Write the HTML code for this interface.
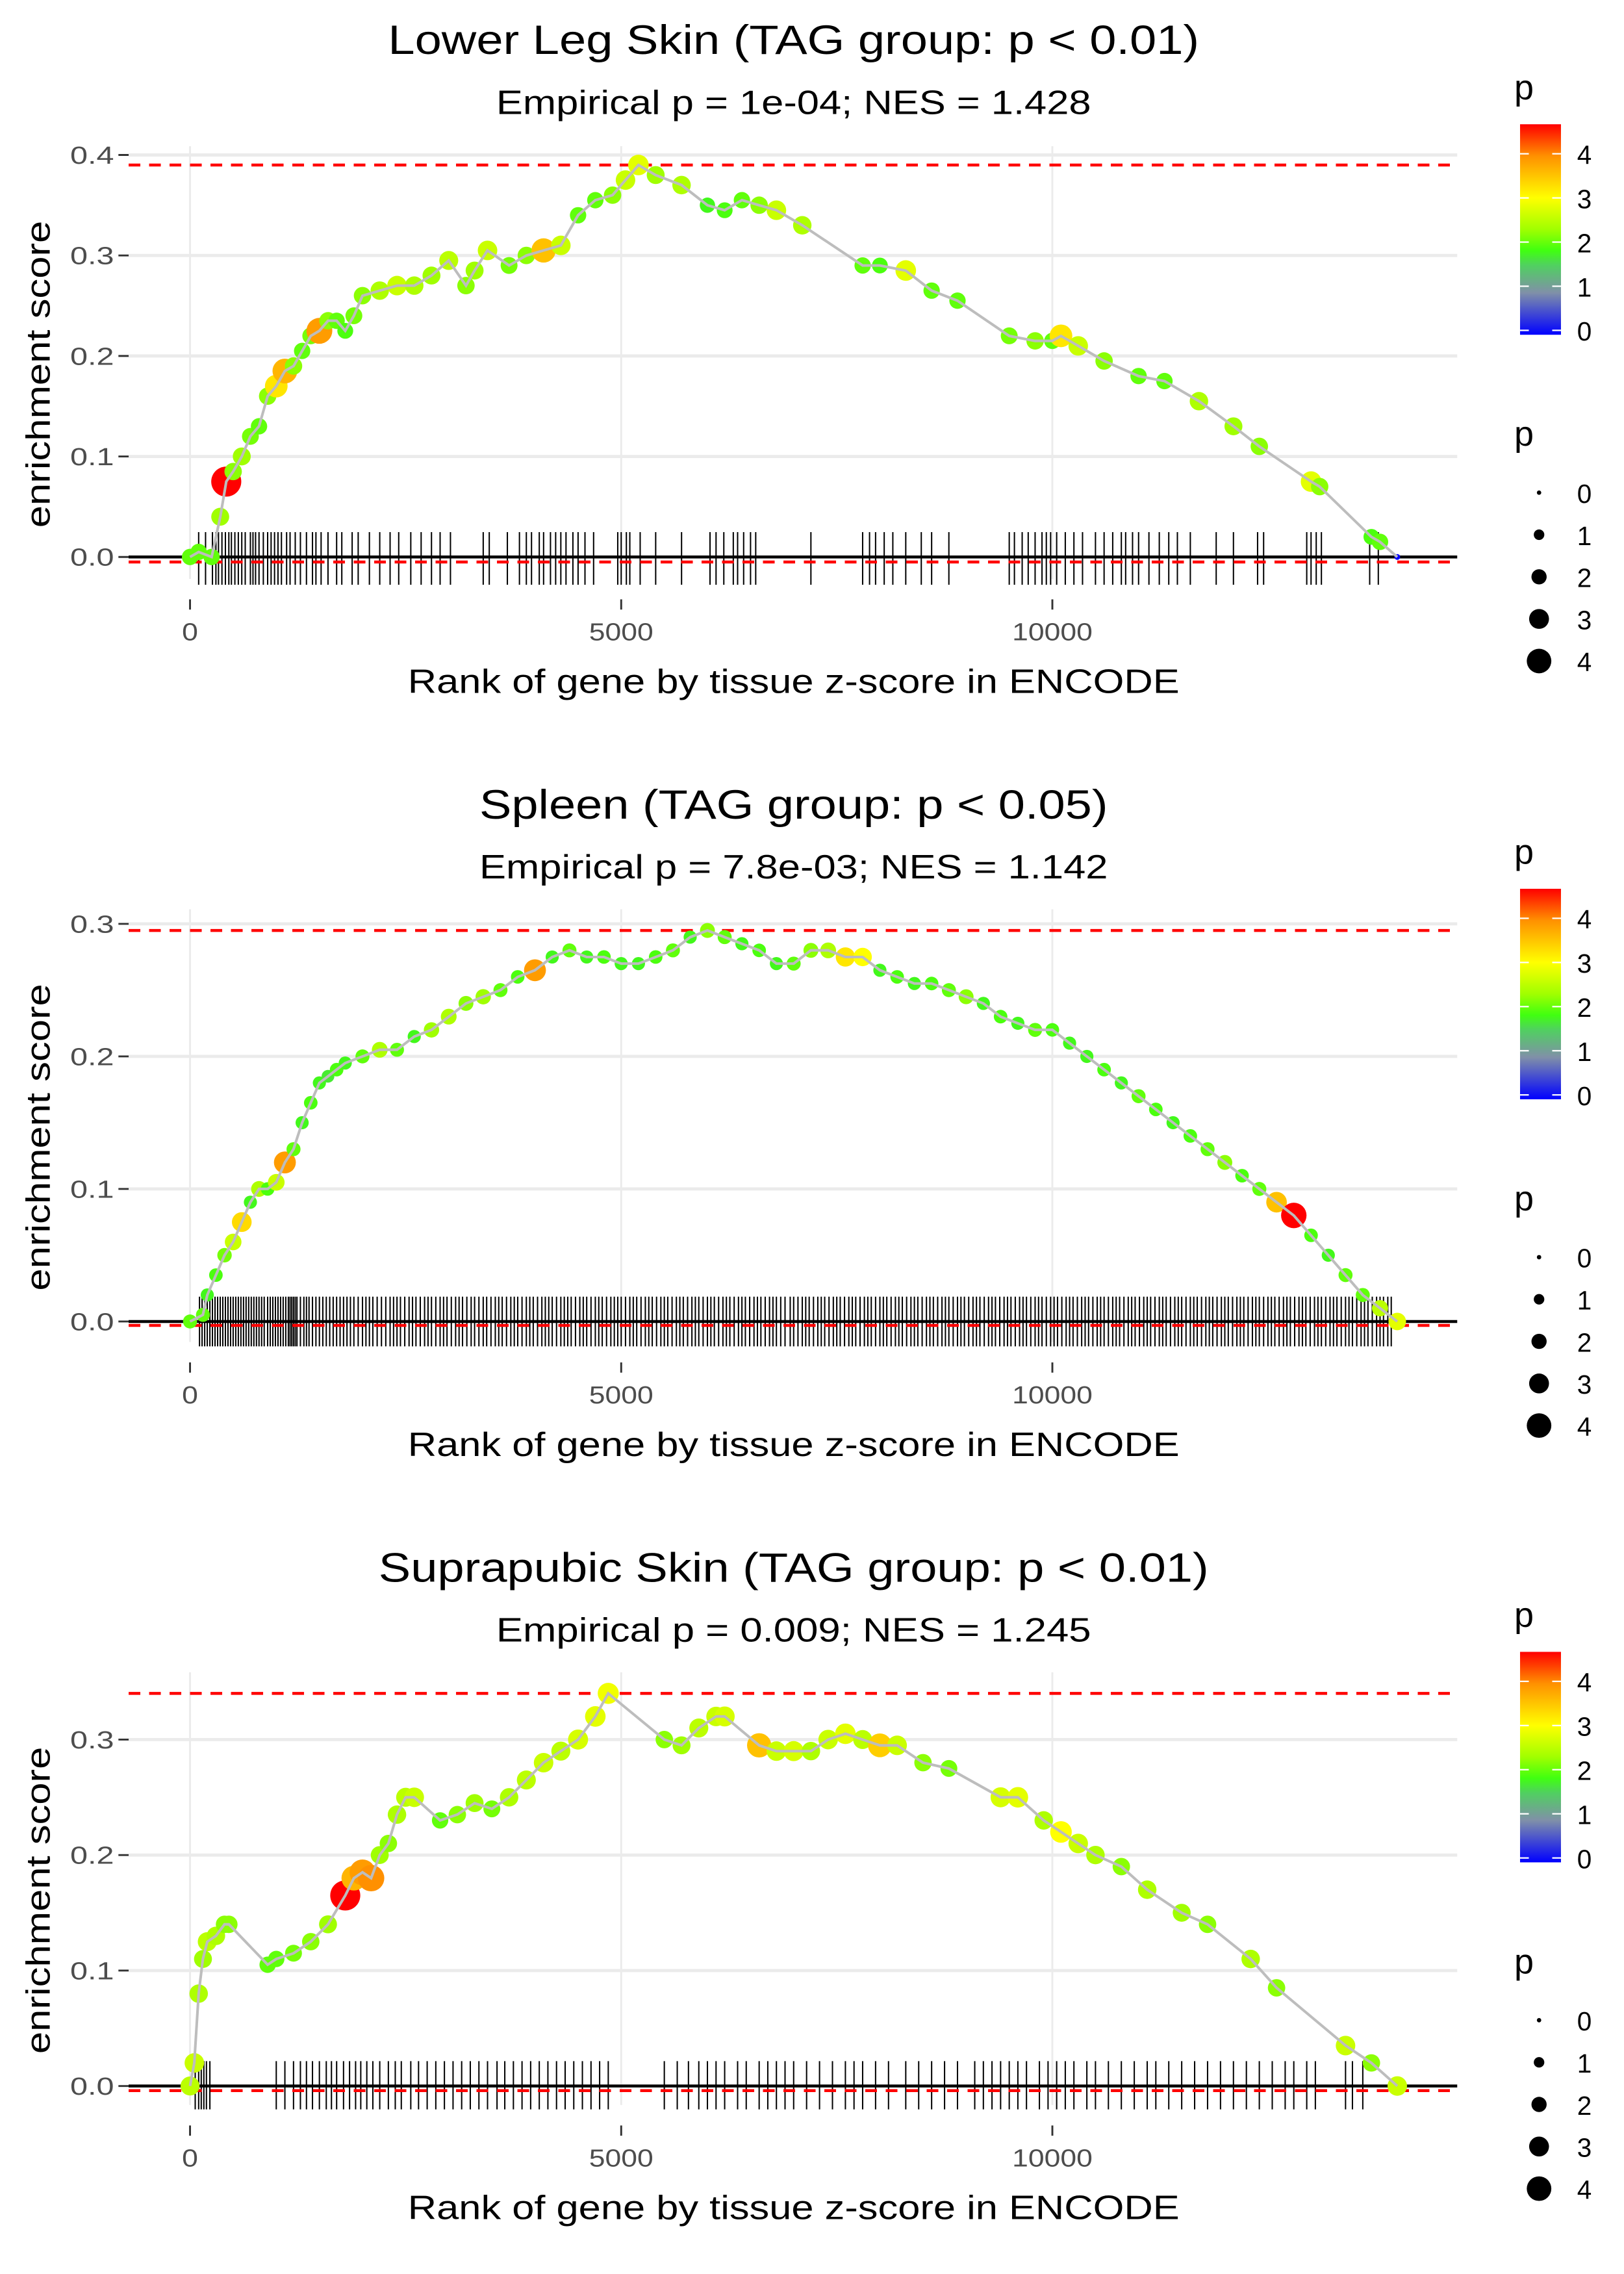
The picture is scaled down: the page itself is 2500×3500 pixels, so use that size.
<!DOCTYPE html>
<html><head><meta charset="utf-8"><style>
html,body{margin:0;padding:0;background:#fff;}
svg{display:block;font-family:"Liberation Sans",sans-serif;}
</style></head><body>
<svg id="chart" width="2500" height="3500" viewBox="0 0 1111.1 1555.6" xmlns="http://www.w3.org/2000/svg">
<defs>
<linearGradient id="cbar" x1="0" y1="1" x2="0" y2="0">
<stop offset="0" stop-color="#0000ff"/><stop offset="0.2" stop-color="#8090a8"/><stop offset="0.33" stop-color="#50d060"/><stop offset="0.4" stop-color="#40ff10"/><stop offset="0.5" stop-color="#a0ff00"/><stop offset="0.65" stop-color="#ffff00"/><stop offset="0.85" stop-color="#ff9000"/><stop offset="1" stop-color="#ff0000"/>
</linearGradient>
</defs>
</svg>
<script>
// ---------- Panel 1: Lower Leg Skin ----------
const p1Rank=[0,100,250,350,420,500,600,700,800,900,1000,1100,1200,1300,1400,1500,1600,1700,1800,1900,2000,2200,2400,2600,2800,3000,3200,3300,3450,3700,3900,4100,4300,4500,4700,4900,5050,5200,5400,5700,6000,6200,6400,6600,6800,7100,7800,8000,8300,8600,8900,9500,9800,10000,10100,10300,10600,11000,11300,11700,12100,12400,13000,13100,13700,13800,14000];
const p1ES=[0,0.005,0,0.04,0.075,0.085,0.1,0.12,0.13,0.16,0.17,0.185,0.19,0.205,0.22,0.225,0.235,0.235,0.225,0.24,0.26,0.265,0.27,0.27,0.28,0.295,0.27,0.285,0.305,0.29,0.3,0.305,0.31,0.34,0.355,0.36,0.375,0.39,0.38,0.37,0.35,0.345,0.355,0.35,0.345,0.33,0.29,0.29,0.285,0.265,0.255,0.22,0.215,0.215,0.22,0.21,0.195,0.18,0.175,0.155,0.13,0.11,0.075,0.07,0.02,0.015,0];
const p1P=[2,2,2,2.3,4.6,2.2,2.3,2.1,2,2.2,3.2,3.6,2.2,2,2.1,3.8,2.2,2,1.9,2.1,2.2,2.4,2.6,2.4,2.3,2.5,2.2,2.3,2.6,2.1,2.2,3.5,2.6,2,2,2.2,2.6,2.8,2.3,2.4,1.8,1.9,2,2.2,2.6,2.4,2,1.9,2.8,2,2,2.1,2.2,2,3.2,2.6,2.2,2,2,2.4,2.3,2.2,2.8,2.2,1.9,2,0];
const p1Hits=[100,180,260,300,330,370,410,450,480,520,560,600,640,700,730,760,800,850,900,940,980,1020,1060,1120,1160,1220,1280,1350,1420,1460,1520,1600,1700,1760,1880,1950,2080,2200,2320,2420,2560,2680,2800,2900,3020,3400,3470,3680,3820,3900,3960,4050,4100,4180,4240,4300,4360,4440,4500,4580,4680,4960,5000,5060,5100,5220,5400,5700,6030,6100,6190,6300,6350,6420,6500,6560,7200,7800,7880,7950,8050,8150,8300,8480,8600,8800,9500,9560,9650,9720,9800,9880,9930,9980,10050,10150,10250,10350,10500,10600,10700,10800,10850,10930,11000,11120,11240,11350,11450,11600,11900,12100,12380,12450,12950,13000,13060,13120,13680,13780];
// ---------- Panel 2: Spleen ----------
const p2Rank=[0,150,200,300,400,500,600,700,800,900,1000,1100,1200,1300,1400,1500,1600,1700,1800,2000,2200,2400,2600,2800,3000,3200,3400,3600,3800,4000,4200,4400,4600,4800,5000,5200,5400,5600,5800,6000,6200,6400,6600,6800,7000,7200,7400,7600,7800,8000,8200,8400,8600,8800,9000,9200,9400,9600,9800,10000,10200,10400,10600,10800,11000,11200,11400,11600,11800,12000,12200,12400,12600,12800,13000,13200,13400,13600,13800,14000];
const p2ES=[0,0.005,0.02,0.035,0.05,0.06,0.075,0.09,0.1,0.1,0.105,0.12,0.13,0.15,0.165,0.18,0.185,0.19,0.195,0.2,0.205,0.205,0.215,0.22,0.23,0.24,0.245,0.25,0.26,0.265,0.275,0.28,0.275,0.275,0.27,0.27,0.275,0.28,0.29,0.295,0.29,0.285,0.28,0.27,0.27,0.28,0.28,0.275,0.275,0.265,0.26,0.255,0.255,0.25,0.245,0.24,0.23,0.225,0.22,0.22,0.21,0.2,0.19,0.18,0.17,0.16,0.15,0.14,0.13,0.12,0.11,0.1,0.09,0.08,0.065,0.05,0.035,0.02,0.01,0];
const p2P=[2,2,1.8,1.9,2.1,2.6,3.3,1.8,2.4,1.9,2.6,3.8,2,1.8,1.9,1.8,1.7,1.9,1.8,2,2.4,2,1.8,2.3,2.4,2.2,2.3,2,1.9,3.8,1.8,2,1.8,1.9,1.8,1.8,1.9,2,1.8,2.2,2,1.8,1.9,1.8,2,2.2,2.4,3.2,3,1.8,1.9,1.8,1.9,2,2.2,1.8,1.9,1.8,2,1.9,1.8,1.8,1.9,1.8,2,1.9,1.8,1.9,2,2.2,1.9,2,3.5,4.6,1.9,1.8,2,2,2.5,2.8];
const p2Hits=[110,140,170,200,230,260,290,320,350,380,410,440,470,500,530,560,590,620,650,680,710,740,770,800,830,860,900,930,960,990,1020,1050,1080,1110,1140,1160,1180,1200,1220,1240,1280,1320,1350,1380,1420,1460,1500,1540,1580,1620,1660,1700,1740,1780,1820,1860,1900,1950,2000,2040,2080,2120,2170,2220,2270,2320,2360,2400,2440,2490,2540,2580,2620,2670,2720,2760,2800,2850,2900,2940,2980,3030,3080,3120,3160,3210,3260,3300,3350,3400,3440,3490,3540,3580,3620,3670,3720,3760,3800,3850,3900,3940,3980,4030,4080,4120,4160,4200,4250,4300,4340,4380,4420,4470,4520,4560,4600,4650,4700,4740,4780,4830,4880,4920,4960,5000,5050,5100,5140,5180,5230,5280,5320,5360,5410,5460,5500,5540,5590,5640,5680,5720,5770,5820,5860,5900,5950,6000,6040,6080,6130,6180,6220,6260,6310,6360,6400,6440,6490,6540,6580,6620,6670,6720,6760,6800,6850,6900,6960,7000,7050,7100,7140,7180,7230,7280,7320,7360,7410,7460,7500,7540,7590,7640,7680,7720,7770,7820,7860,7900,7950,8000,8040,8080,8130,8180,8220,8260,8310,8360,8400,8440,8490,8540,8580,8620,8670,8720,8760,8800,8850,8900,8940,8980,9030,9080,9120,9160,9210,9260,9300,9340,9390,9440,9480,9520,9570,9620,9660,9700,9750,9800,9840,9880,9930,9980,10020,10060,10110,10160,10200,10240,10290,10340,10380,10420,10470,10520,10560,10600,10650,10700,10740,10780,10830,10880,10920,10960,11010,11060,11100,11140,11190,11240,11280,11320,11370,11420,11460,11500,11550,11600,11640,11680,11730,11780,11820,11860,11910,11960,12000,12040,12090,12140,12180,12220,12270,12320,12360,12400,12450,12500,12540,12580,12630,12680,12720,12760,12810,12860,12900,12940,12990,13040,13080,13120,13170,13220,13260,13300,13350,13400,13440,13480,13530,13580,13620,13660,13710,13760,13800,13840,13890,13930];
// ---------- Panel 3: Suprapubic Skin ----------
const p3Rank=[0,50,100,150,200,300,400,450,900,1000,1200,1400,1600,1800,1900,2000,2100,2200,2300,2400,2500,2600,2900,3100,3300,3500,3700,3900,4100,4300,4500,4700,4850,5500,5700,5900,6100,6200,6600,6800,7000,7200,7400,7600,7800,8000,8200,8500,8800,9400,9600,9900,10100,10300,10500,10800,11100,11500,11800,12300,12600,13400,13700,14000];
const p3ES=[0,0.02,0.08,0.11,0.125,0.13,0.14,0.14,0.105,0.11,0.115,0.125,0.14,0.165,0.18,0.185,0.18,0.2,0.21,0.235,0.25,0.25,0.23,0.235,0.245,0.24,0.25,0.265,0.28,0.29,0.3,0.32,0.34,0.3,0.295,0.31,0.32,0.32,0.295,0.29,0.29,0.29,0.3,0.305,0.3,0.295,0.295,0.28,0.275,0.25,0.25,0.23,0.22,0.21,0.2,0.19,0.17,0.15,0.14,0.11,0.085,0.035,0.02,0];
const p3P=[2.5,2.6,2.4,2.3,2.5,2.4,2.2,2.2,2,2,2.1,2.2,2.3,4.6,3.6,3.8,3.9,2.3,2.2,2.4,2.5,2.6,2,2.2,2.3,2.1,2.4,2.5,2.6,2.5,2.7,2.8,2.9,2.2,2.3,2.5,2.6,2.7,3.5,2.6,2.7,2.4,2.6,2.8,2.5,3.4,2.6,2.2,2.1,2.7,2.8,2.4,3,2.6,2.4,2.2,2.4,2.3,2.2,2.4,2.2,2.6,2.2,2.6];
const p3Hits=[60,100,130,160,190,230,1000,1100,1200,1280,1350,1420,1500,1580,1640,1700,1780,1850,1920,1980,2050,2120,2200,2300,2380,2450,2560,2650,2750,2850,2950,3050,3150,3250,3350,3450,3560,3650,3750,3850,3950,4050,4150,4250,4350,4450,4550,4650,4750,4850,5500,5650,5780,5900,6000,6100,6200,6350,6450,6600,6700,6800,6900,7000,7150,7300,7450,7600,7700,7800,7950,8100,8300,8450,8600,8750,8900,9100,9200,9300,9400,9500,9600,9700,9850,9950,10050,10150,10250,10400,10500,10650,10800,10950,11100,11200,11350,11500,11650,11800,11950,12100,12250,12400,12550,12700,12800,12950,13050,13400,13480,13600];

const svg=document.getElementById('chart');
const NS='http://www.w3.org/2000/svg';
function mk(tag,attrs,parent){const e=document.createElementNS(NS,tag);for(const k in attrs)e.setAttribute(k,attrs[k]);(parent||svg).appendChild(e);return e;}
function pColor(p){
  const st=[[0,[0,0,255]],[0.9,[128,144,168]],[1.5,[80,208,96]],[1.85,[64,255,16]],[2.3,[160,255,0]],[3,[255,255,0]],[3.9,[255,144,0]],[4.6,[255,0,0]]];
  if(p<=0)return 'rgb(0,0,255)';
  for(let i=1;i<st.length;i++){if(p<=st[i][0]){const a=st[i-1],b=st[i],t=(p-a[0])/(b[0]-a[0]);const c=a[1].map((v,j)=>Math.round(v+(b[1][j]-v)*t));return 'rgb('+c+')';}}
  return 'rgb(255,0,0)';
}
function stretch(t,len){t.setAttribute('textLength',len);t.setAttribute('lengthAdjust','spacingAndGlyphs');}
function panel(cfg,ranks,es,ps,hits){
  const g=mk('g',{});
  
  
  const X=r=>130+r*0.059;
  const Y=v=>cfg.y0-v*cfg.k;
  const L=88,R=997;
  [0,5000,10000].forEach(v=>{const l=mk('line',{x1:X(v),x2:X(v),y1:cfg.top,y2:cfg.bot,stroke:'#ebebeb','stroke-width':1.3},g);
    });
  cfg.ticks.forEach(v=>{const l=mk('line',{x1:L,x2:R,y1:Y(v),y2:Y(v),stroke:'#ebebeb','stroke-width':2.2},g);
    });
  hits.forEach(h=>{const l=mk('line',{x1:X(h),x2:X(h),y1:Y(0)-cfg.hitUp,y2:Y(0)+cfg.hitDn,stroke:'#000','stroke-width':0.9},g);
    });
  const z=mk('line',{x1:L,x2:R,y1:Y(0),y2:Y(0),stroke:'#000','stroke-width':2},g);
  
  const mx=Math.max(...es), mn=cfg.minES;
  [mx,mn].forEach(v=>{const l=mk('line',{x1:L,x2:R,y1:Y(v),y2:Y(v),stroke:'#ff0000','stroke-width':2,'stroke-dasharray':'8,6'},g);
    });
  const d=ranks.map((r,i)=>(i?'L':'M')+X(r).toFixed(1)+','+Y(es[i]).toFixed(1)).join(' ');
  ranks.forEach((r,i)=>{const c=mk('circle',{cx:X(r),cy:Y(es[i]),r:cfg.rb+cfg.rk*ps[i],fill:pColor(ps[i])},g);
    });
  const path=mk('path',{d:d,fill:'none',stroke:'#bdbdbd','stroke-width':1.8},g);
  
  cfg.ticks.forEach(v=>{const t=mk('text',{x:78,y:Y(v)+6,'text-anchor':'end','font-size':17,fill:'#4d4d4d'},g);t.textContent=v.toFixed(1);stretch(t,30);
    
    const tk=mk('line',{x1:81,x2:88,y1:Y(v),y2:Y(v),stroke:'#333','stroke-width':1.3},g);
    });
  [0,5000,10000].forEach(v=>{const t=mk('text',{x:X(v),y:cfg.bot+42,'text-anchor':'middle','font-size':17,fill:'#4d4d4d'},g);t.textContent=v;stretch(t,String(v).length*11);
    
    const tk=mk('line',{x1:X(v),x2:X(v),y1:cfg.bot+14,y2:cfg.bot+21,stroke:'#333','stroke-width':1.3},g);
    });
  const xt=mk('text',{x:543,y:cfg.bot+78,'text-anchor':'middle','font-size':23,fill:'#000'},g);xt.textContent='Rank of gene by tissue z-score in ENCODE';stretch(xt,528);
  
  const cy=(cfg.top+cfg.bot)/2+8;
  const yt=mk('text',{x:34,y:cy,'text-anchor':'middle','font-size':23,fill:'#000',transform:'rotate(-90 34 '+cy+')'},g);yt.textContent='enrichment score';stretch(yt,210);
  
  const ti=mk('text',{x:543,y:cfg.t0+10,'text-anchor':'middle','font-size':28,fill:'#000'},g);ti.textContent=cfg.title;stretch(ti,cfg.tw);
  
  const st=mk('text',{x:543,y:cfg.t0+51,'text-anchor':'middle','font-size':23,fill:'#000'},g);st.textContent=cfg.sub;stretch(st,cfg.sw);
  
  const o=cfg.t0-27;
  const lp=mk('text',{x:1036,y:o+68,'font-size':24,fill:'#000'},g);lp.textContent='p';
  
  const cb=mk('rect',{x:1040,y:o+85,width:28,height:144,fill:'url(#cbar)'},g);
  
  [0,1,2,3,4].forEach(v=>{const yy=o+226-v*30.2;
    mk('line',{x1:1040,x2:1046,y1:yy,y2:yy,stroke:'#fff','stroke-width':1},g);
    mk('line',{x1:1062,x2:1068,y1:yy,y2:yy,stroke:'#fff','stroke-width':1},g);
    const t=mk('text',{x:1079,y:yy+7,'font-size':18,fill:'#000'},g);t.textContent=v;
    });
  const sp=mk('text',{x:1036,y:o+305,'font-size':24,fill:'#000'},g);sp.textContent='p';
  
  [0,1,2,3,4].forEach(v=>{const yy=o+337+v*28.8;
    const c=mk('circle',{cx:1053,cy:yy,r:v===0?1.5:2+1.6*v,fill:'#000'},g);
    
    const t=mk('text',{x:1079,y:yy+7,'font-size':18,fill:'#000'},g);t.textContent=v;
    });
}
panel({name:'panel-lower-leg-skin',title:'Lower Leg Skin (TAG group: p < 0.01)',tw:555,sub:'Empirical p = 1e-04; NES = 1.428',sw:407,t0:27,y0:381,k:687.5,top:100,bot:396,ticks:[0,0.1,0.2,0.3,0.4],minES:-0.005,hitUp:17,hitDn:19,rb:2,rk:1.8},p1Rank,p1ES,p1P,p1Hits);
panel({name:'panel-spleen',title:'Spleen (TAG group: p < 0.05)',tw:430,sub:'Empirical p = 7.8e-03; NES = 1.142',sw:430,t0:550,y0:904,k:906.7,top:622,bot:918,ticks:[0,0.1,0.2,0.3],minES:-0.003,hitUp:17,hitDn:17,rb:1.8,rk:1.5},p2Rank,p2ES,p2P,p2Hits);
panel({name:'panel-suprapubic-skin',title:'Suprapubic Skin (TAG group: p < 0.01)',tw:568,sub:'Empirical p = 0.009; NES = 1.245',sw:407,t0:1072,y0:1427,k:790,top:1144,bot:1440,ticks:[0,0.1,0.2,0.3],minES:-0.004,hitUp:17,hitDn:16,rb:2,rk:1.8},p3Rank,p3ES,p3P,p3Hits);
</script>
</body></html>
